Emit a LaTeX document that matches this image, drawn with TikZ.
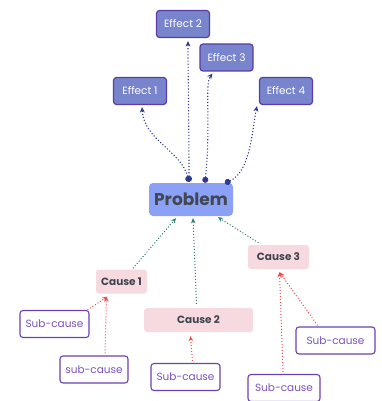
\documentclass[tikz,border=0pt]{standalone}
\usepackage{fontspec}
\setmainfont{Poppins}
\usetikzlibrary{arrows.meta,calc}
\definecolor{effFill}{HTML}{7884CB}
\definecolor{effDraw}{HTML}{5A3DA8}
\definecolor{probFill}{HTML}{8AA1F6}
\definecolor{probText}{HTML}{414753}
\definecolor{causeFill}{HTML}{F7DADF}
\definecolor{causeText}{HTML}{3F4450}
\definecolor{subDraw}{HTML}{6A42B0}
\definecolor{subText}{HTML}{7B52C2}
\definecolor{blueArrow}{HTML}{2E3B8F}
\definecolor{tealArrow}{HTML}{2E7D70}
\definecolor{redArrow}{HTML}{F24B4B}
\tikzset{
  effect/.style={draw=effDraw, line width=1.2pt, fill=effFill, rounded corners=3pt,
    text=white, font=\fontsize{10.5}{12}\selectfont, minimum width=53pt, minimum height=27pt, inner sep=0pt},
  problem/.style={fill=probFill, rounded corners=4pt, text=probText,
    font=\fontsize{17}{19}\selectfont\bfseries, minimum width=84pt, minimum height=33pt, inner sep=0pt},
  cause/.style={fill=causeFill, rounded corners=3pt, text=causeText,
    font=\fontsize{10.5}{12}\selectfont\bfseries, minimum height=24pt, inner sep=0pt},
  subcause/.style={draw=subDraw, line width=1.1pt, fill=white, rounded corners=3pt, text=subText,
    font=\fontsize{10.5}{12}\selectfont, minimum height=27pt, inner sep=0pt},
  effarrow/.style={draw=blueArrow, line width=1.1pt, dotted, {Circle[length=6pt,width=6pt]}-{Stealth[length=5.5pt,width=5pt]}},
  causearrow/.style={draw=tealArrow, line width=1pt, dotted, -{Stealth[length=5pt,width=4.5pt]}},
  subarrow/.style={draw=redArrow, line width=1pt, dotted, -{Stealth[length=5pt,width=4.5pt]}},
}
\begin{document}
\begin{tikzpicture}[x=1pt,y=-1pt]
\useasboundingbox (0,0) rectangle (382,401);
\node[effect] (e2) at (183,24) {Effect 2};
\node[effect] (e3) at (226.5,57.5) {Effect 3};
\node[effect] (e1) at (140,91) {Effect 1};
\node[effect] (e4) at (286,91) {Effect 4};
\node[problem] (p) at (191,199.5) {Problem};
\node[cause, minimum width=51pt] (c1) at (121.5,281.5) {Cause 1};
\node[cause, minimum width=109pt] (c2) at (198.5,320) {Cause 2};
\node[cause, minimum width=61pt] (c3) at (278.5,257) {Cause 3};
\node[subcause, minimum width=69pt] (s1) at (54.5,324) {Sub-cause};
\node[subcause, minimum width=68pt] (s2) at (94,369.5) {sub-cause};
\node[subcause, minimum width=69pt] (s3) at (185.5,377) {Sub-cause};
\node[subcause, minimum width=79pt] (s4) at (335.5,340.5) {Sub-cause};
\node[subcause, minimum width=72pt] (s5) at (284,388) {Sub-cause};
% effects
\draw[effarrow] ($(p.north)+(-2,-1)$) .. controls ($(p.north)+(-10,-32)$) and ($(e1.south)+(4,35)$) .. ($(e1.south)+(2,2)$);
\draw[effarrow] ($(p.north)+(-2,-1)$) .. controls ($(p.north)+(-2,-60)$) and ($(e2.south)+(5,40)$) .. ($(e2.south)+(5,3)$);
\draw[effarrow] ($(p.north)+(14,0)$) .. controls ($(p.north)+(20,-60)$) and ($(e3.south)+(-22,12)$) .. ($(e3.south)+(-14,2)$);
\draw[effarrow] ($(p.north)+(34,0.5)$) .. controls ($(p.north)+(60,-12)$) and ($(e4.south)+(-34,25)$) .. ($(e4.south)+(-29,1)$);
% causes
\draw[causearrow] ($(c1.north)+(11.5,-1)$) -- ($(p.south)+(-15,2)$);
\draw[causearrow] ($(c2.north)+(-2,-4)$) -- ($(p.south)+(2,2)$);
\draw[causearrow] ($(c3.north)+(-20,-2)$) -- ($(p.south)+(27,1)$);
% sub-causes
\draw[subarrow] ($(s1.north)+(33,0)$) -- ($(c1.south)+(-14,3)$);
\draw[subarrow] ($(s2.north)+(11,-2)$) -- ($(c1.south)+(-15,3)$);
\draw[subarrow] ($(s3.north)+(7,-2)$) .. controls ($(s3.north)+(6,-12)$) .. ($(c2.south)+(-8,4)$);
\draw[subarrow] ($(s4.north)+(-18,-1)$) .. controls ($(s4.north)+(-35,-25)$) .. ($(c3.south)+(1,3)$);
\draw[subarrow] ($(s5.north)+(-1,-2)$) -- ($(c3.south)+(1,3)$);
\end{tikzpicture}
\end{document}
